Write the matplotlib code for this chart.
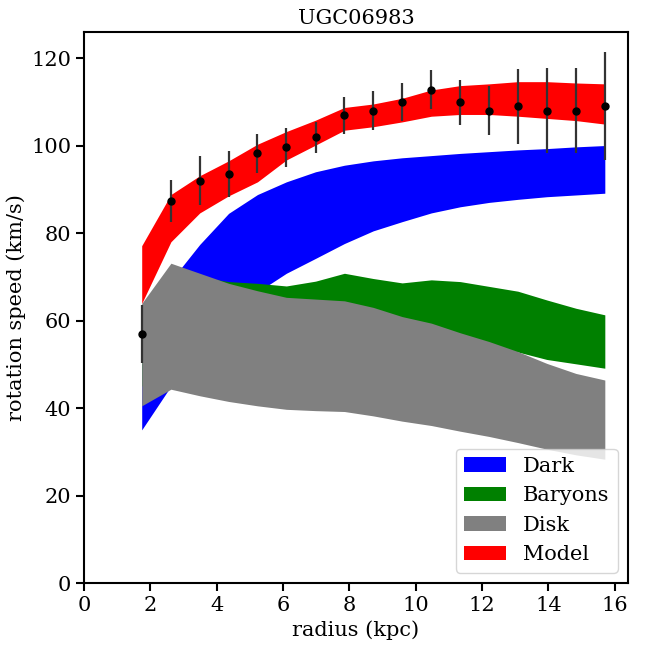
import matplotlib
matplotlib.use("Agg")
import matplotlib.pyplot as plt
from matplotlib.ticker import MultipleLocator

plt.rcParams['font.family'] = ['DejaVu Serif']
plt.rcParams['font.size'] = 15

radius = [1.74, 2.62, 3.49, 4.36, 5.23, 6.10, 6.98, 7.85, 8.72, 9.59,
          10.47, 11.34, 12.21, 13.08, 13.95, 14.83, 15.70]

v_obs = [56.9, 87.3, 92.0, 93.5, 98.2, 99.6, 101.9, 106.9, 108.0, 109.9,
         112.8, 109.9, 108.0, 109.0, 108.0, 108.0, 109.0]
v_err = [6.6, 4.8, 5.7, 5.2, 4.4, 4.4, 3.5, 4.3, 4.4, 4.4,
         4.4, 5.1, 5.7, 8.6, 9.7, 9.7, 12.3]

dark_lo = [35.0, 45.0, 53.0, 60.0, 66.5, 70.8, 74.2, 77.6, 80.5, 82.6,
           84.6, 86.0, 87.0, 87.7, 88.3, 88.7, 89.1]
dark_hi = [50.0, 69.1, 77.4, 84.5, 88.8, 91.7, 94.0, 95.5, 96.5, 97.2,
           97.7, 98.2, 98.6, 99.0, 99.3, 99.7, 100.0]

bary_lo = [45.0, 48.0, 50.0, 52.0, 53.0, 53.0, 53.5, 54.0, 54.5, 55.0,
           55.0, 55.0, 54.0, 52.8, 51.1, 50.1, 49.1]
bary_hi = [63.0, 71.0, 70.0, 68.9, 68.5, 67.9, 69.0, 70.8, 69.6, 68.6,
           69.3, 68.9, 67.8, 66.7, 64.7, 62.8, 61.3]

disk_lo = [40.5, 44.3, 42.8, 41.5, 40.5, 39.7, 39.4, 39.2, 38.2, 37.0,
           36.0, 34.7, 33.5, 32.1, 30.6, 29.3, 28.3]
disk_hi = [63.9, 73.1, 70.8, 68.5, 66.8, 65.3, 64.9, 64.5, 63.0, 60.9,
           59.4, 57.2, 55.2, 52.9, 50.2, 47.9, 46.4]

model_lo = [63.9, 78.0, 84.6, 88.5, 91.7, 96.7, 100.1, 103.5, 104.3, 105.4,
            106.7, 107.1, 107.1, 106.7, 106.2, 105.7, 104.9]
model_hi = [77.1, 88.8, 93.1, 96.5, 100.3, 103.2, 105.8, 108.7, 109.5, 110.8,
            112.7, 113.7, 114.1, 114.6, 114.6, 114.3, 114.1]

fig = plt.figure(figsize=(6.48, 6.48), dpi=100)
ax = fig.add_axes([0.1296, 0.1003, 0.8395, 0.8503])

ax.fill_between(radius, dark_lo, dark_hi, color='blue', linewidth=0, label='Dark')
ax.fill_between(radius, bary_lo, bary_hi, color='green', linewidth=0, label='Baryons')
ax.fill_between(radius, disk_lo, disk_hi, color='grey', linewidth=0, label='Disk')
ax.fill_between(radius, model_lo, model_hi, color='red', linewidth=0, label='Model')
ax.errorbar(radius, v_obs, yerr=v_err, fmt='o', color='black', ecolor='#333333',
            markersize=5, elinewidth=1.6, capsize=0, zorder=5)

ax.set_xlim(left=0)
ax.set_ylim(bottom=0)
ax.xaxis.set_major_locator(MultipleLocator(2))
ax.yaxis.set_major_locator(MultipleLocator(20))
ax.set_xlabel('radius (kpc)')
ax.set_ylabel('rotation speed (km/s)')
ax.set_title('UGC06983', fontsize=15)

for s in ax.spines.values():
    s.set_linewidth(1.5)
ax.tick_params(which='major', length=5.5, width=1.5, labelsize=15)

ax.legend(loc='lower right', fontsize=15)

fig.savefig('out.png', dpi=100)
